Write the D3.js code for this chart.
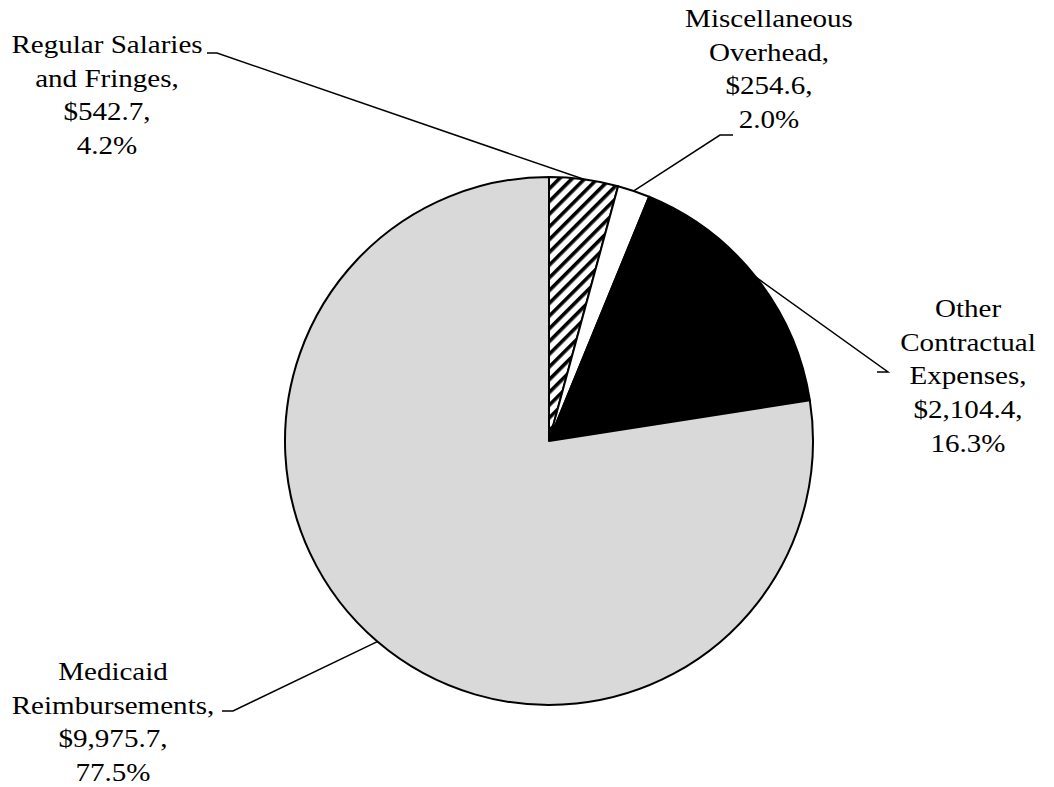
<!DOCTYPE html>
<html>
<head>
<meta charset="utf-8">
<script src="https://cdn.jsdelivr.net/npm/d3@7/dist/d3.min.js"></script>
<style>
  html, body { margin: 0; padding: 0; background: #fff; }
  svg { display: block; }
  .lbl { font-family: "Liberation Serif", "Times New Roman", serif; font-size: 25.5px; fill: #000; }
</style>
</head>
<body>
<svg id="chart" width="1054" height="787"></svg>
<script>
// Expense categories, clockwise from 12 o'clock
const categories = [
  "Regular Salaries and Fringes",
  "Miscellaneous Overhead",
  "Other Contractual Expenses",
  "Medicaid Reimbursements"
];
// Amounts in millions of dollars
const amounts = [542.7, 254.6, 2104.4, 9975.7];
const percents = ["4.2%", "2.0%", "16.3%", "77.5%"];
// Label text lines for each slice
const labelLines = [
  ["Regular Salaries", "and Fringes,", "$542.7,", "4.2%"],
  ["Miscellaneous", "Overhead,", "$254.6,", "2.0%"],
  ["Other", "Contractual", "Expenses,", "$2,104.4,", "16.3%"],
  ["Medicaid", "Reimbursements,", "$9,975.7,", "77.5%"]
];

const svg = d3.select("#chart");
const cx = 549, cy = 441, r = 264;

// hatch pattern: wide upward diagonal
const defs = svg.append("defs");
const pat = defs.append("pattern")
  .attr("id", "hatch")
  .attr("patternUnits", "userSpaceOnUse")
  .attr("width", 9).attr("height", 9)
  .attr("patternTransform", "rotate(45)");
pat.append("rect").attr("width", 9).attr("height", 9).attr("fill", "#fff");
pat.append("rect").attr("x", 0).attr("y", 0).attr("width", 3.6).attr("height", 9).attr("fill", "#000");

const fills = ["url(#hatch)", "#ffffff", "#000000", "#d9d9d9"];

const pie = d3.pie().sort(null).value(d => d);
const arcs = pie(amounts);
const arc = d3.arc().innerRadius(0).outerRadius(r);

const g = svg.append("g").attr("transform", `translate(${cx},${cy})`);
g.selectAll("path.slice")
  .data(arcs)
  .join("path")
  .attr("class", "slice")
  .attr("d", arc)
  .attr("fill", (d, i) => fills[i])
  .attr("stroke", "#000")
  .attr("stroke-width", 2)
  .attr("stroke-linejoin", "round");

// label placement: block centre x, first baseline y, elbow point and end of the leader
const lineH = 33.7;
const stretch = 1.14;
const labelPos = [
  { x: 107, y: 53, elbow: [217, 53], end: [207, 53] },
  { x: 769, y: 27, elbow: [720, 135], end: [733, 135] },
  { x: 968, y: 317, elbow: [888, 372], end: [877, 372] },
  { x: 113, y: 680, elbow: [233, 711], end: [222, 711] }
];

arcs.forEach((a, i) => {
  const mid = (a.startAngle + a.endAngle) / 2;
  const px = cx + r * Math.sin(mid), py = cy - r * Math.cos(mid);
  const p = labelPos[i];
  const path = d3.path();
  path.moveTo(px, py);
  path.lineTo(p.elbow[0], p.elbow[1]);
  path.lineTo(p.end[0], p.end[1]);
  svg.append("path")
    .attr("d", path.toString())
    .attr("fill", "none")
    .attr("stroke", "#000")
    .attr("stroke-width", 1.5);

  const t = svg.append("g")
    .attr("transform", `translate(${p.x},${p.y}) scale(${stretch},1)`)
    .append("text").attr("class", "lbl").attr("text-anchor", "middle");
  labelLines[i].forEach((s, k) => {
    t.append("tspan").attr("x", 0).attr("y", k * lineH).text(s);
  });
});
</script>
</body>
</html>
